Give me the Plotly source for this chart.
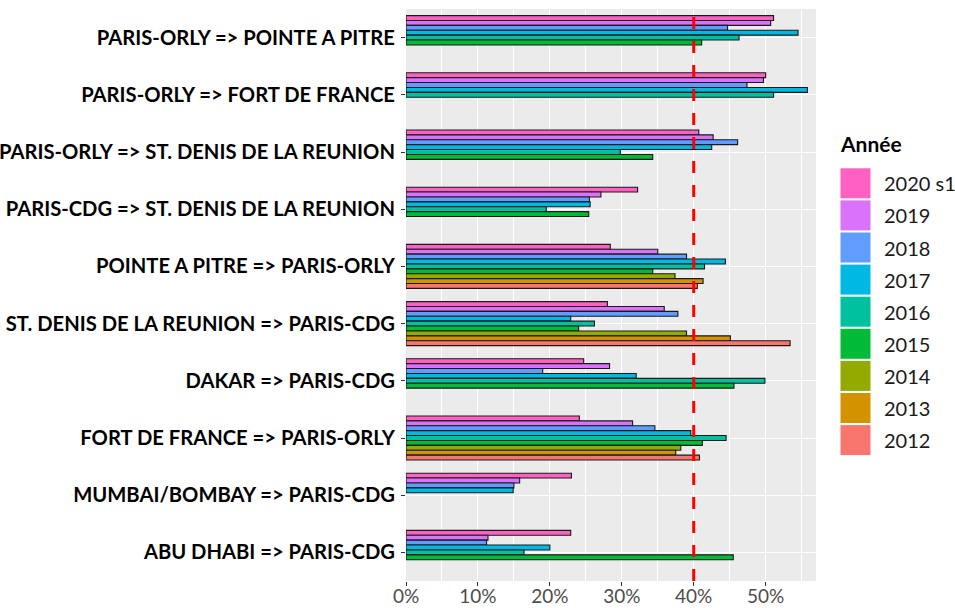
import plotly.graph_objects as go

# ---- data ----
routes = [
    "PARIS-ORLY => POINTE A PITRE",
    "PARIS-ORLY => FORT DE FRANCE",
    "PARIS-ORLY => ST. DENIS DE LA REUNION",
    "PARIS-CDG => ST. DENIS DE LA REUNION",
    "POINTE A PITRE => PARIS-ORLY",
    "ST. DENIS DE LA REUNION => PARIS-CDG",
    "DAKAR => PARIS-CDG",
    "FORT DE FRANCE => PARIS-ORLY",
    "MUMBAI/BOMBAY => PARIS-CDG",
    "ABU DHABI => PARIS-CDG",
]
years = ["2020 s1", "2019", "2018", "2017", "2016", "2015", "2014", "2013", "2012"]
colors = ["#FF61C3", "#DB72FB", "#619CFF", "#00B9E3", "#00C19F",
          "#00BA38", "#93AA00", "#D39200", "#F8766D"]

v2020 = [0.511, 0.500, 0.407, 0.322, 0.284, 0.280, 0.247, 0.241, 0.230, 0.229]
v2019 = [0.507, 0.497, 0.427, 0.271, 0.350, 0.359, 0.283, 0.315, 0.158, 0.114]
v2018 = [0.447, 0.474, 0.461, 0.255, 0.390, 0.378, 0.190, 0.346, 0.150, 0.112]
v2017 = [0.545, 0.558, 0.425, 0.256, 0.444, 0.229, 0.320, 0.396, 0.149, 0.200]
v2016 = [0.463, 0.511, 0.298, 0.195, 0.415, 0.262, 0.499, 0.445, None, 0.164]
v2015 = [0.411, None, 0.343, 0.254, 0.343, 0.240, 0.456, 0.412, None, 0.455]
v2014 = [None, None, None, None, 0.374, 0.390, None, 0.382, None, None]
v2013 = [None, None, None, None, 0.413, 0.451, None, 0.375, None, None]
v2012 = [None, None, None, None, 0.405, 0.534, None, 0.408, None, None]
values = [v2020, v2019, v2018, v2017, v2016, v2015, v2014, v2013, v2012]
threshold = 0.40
x_ticks = [0, 0.1, 0.2, 0.3, 0.4, 0.5]

fig = go.Figure()
for yr, col, vals in zip(years, colors, values):
    fig.add_trace(go.Bar(
        y=routes, x=vals, name=yr, orientation="h",
        marker=dict(color=col, line=dict(color="#1a1a1a", width=1.1)),
        showlegend=False,
    ))

fig.add_shape(type="line", xref="x", yref="paper", x0=threshold, x1=threshold,
              y0=0, y1=1, line=dict(color="#FF0000", width=3, dash="12px,12px"))

# manual legend (ggplot-style big keys)
W, H = 955, 608
L, R, T, B = 406, 139, 9, 27
pw, ph = W - L - R, H - T - B
def px(x):
    return (x - L) / pw
def py(y):
    return (H - B - y) / ph

fig.add_annotation(xref="paper", yref="paper", x=px(838), y=py(143),
                   xanchor="left", yanchor="middle", showarrow=False,
                   text="<b>Année</b>", font=dict(size=21, color="#000000"))
for i, (yr, col) in enumerate(zip(years, colors)):
    cy = 183.3 + i * 32.1
    fig.add_shape(type="rect", xref="paper", yref="paper",
                  x0=px(840.5), x1=px(870.5), y0=py(cy - 15), y1=py(cy + 15),
                  fillcolor=col, line=dict(width=0))
    fig.add_annotation(xref="paper", yref="paper", x=px(882), y=py(cy),
                       xanchor="left", yanchor="middle", showarrow=False,
                       text=yr, font=dict(size=20, color="#1a1a1a"))

fig.update_layout(
    width=W, height=H,
    margin=dict(l=L, r=R, t=T, b=B, pad=0, autoexpand=False),
    barmode="group", bargap=0.23, bargroupgap=0,
    plot_bgcolor="#EBEBEB", paper_bgcolor="white",
    font=dict(family="Lato, sans-serif"),
    showlegend=False,
)
fig.update_xaxes(
    automargin=False,
    range=[0, 0.570], tickvals=x_ticks, tickformat=".0%",
    showgrid=True, gridcolor="white", gridwidth=1.4,
    minor=dict(dtick=0.05, tick0=0, showgrid=True, gridcolor="white", gridwidth=0.6),
    ticks="outside", ticklen=4, tickcolor="#333333", tickwidth=1,
    ticklabelstandoff=-6,
    tickfont=dict(size=19, color="#4D4D4D", family="Lato, sans-serif"),
    zeroline=False, showline=False,
)
fig.update_yaxes(
    automargin=False,
    categoryorder="array", categoryarray=routes,
    autorange=False, range=[len(routes) - 0.5, -0.5],
    showgrid=True, gridcolor="white", gridwidth=1.4,
    ticks="outside", ticklen=4, tickcolor="#333333", tickwidth=1,
    ticklabelstandoff=2,
    tickfont=dict(size=20.2, color="#000000", family="Lato, sans-serif", weight="bold"),
    zeroline=False, showline=False,
)

fig.write_html("out.html", config={"displayModeBar": False},
               post_script="document.body.style.margin='0';")
